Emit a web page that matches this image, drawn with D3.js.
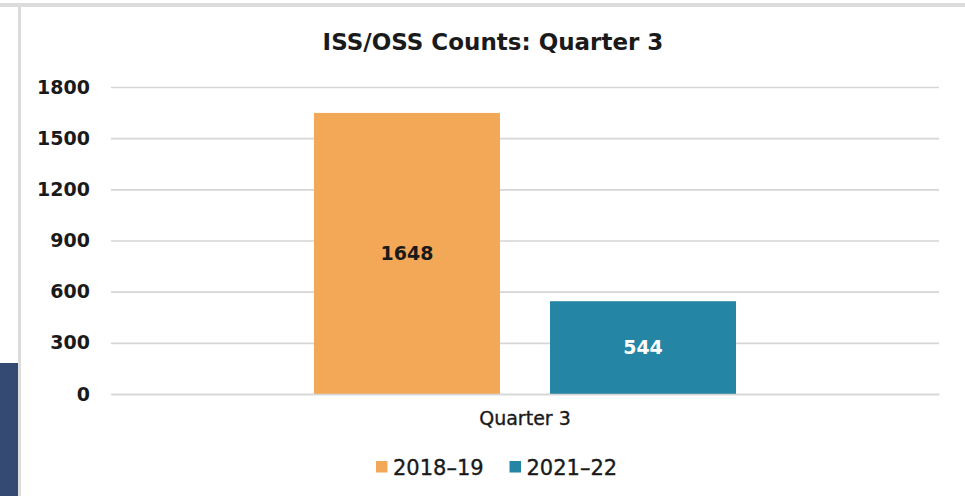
<!DOCTYPE html>
<html>
<head>
<meta charset="utf-8">
<script src="https://cdn.jsdelivr.net/npm/d3@7"></script>
<style>
  html, body { margin: 0; padding: 0; background: #fff; }
  svg { display: block; }
</style>
</head>
<body>
<svg id="chart" width="965" height="496"></svg>
<script>
// ---- data ----
const categories = ["Quarter 3"];
const seriesNames = ["2018\u201319", "2021\u201322"];
const values2018 = [1648];
const values2021 = [544];
const yTicks = [0, 300, 600, 900, 1200, 1500, 1800];
const title = "ISS/OSS Counts: Quarter 3";
const colors = ["#F3A857", "#2485A4"];

const seriesValues = [values2018, values2021];

const W = 965, H = 496;
const svg = d3.select("#chart");

// page frame decoration (slide background)
svg.append("rect").attr("x", 0).attr("y", 0).attr("width", W).attr("height", H).attr("fill", "#fff");
svg.append("rect").attr("x", 0).attr("y", 363).attr("width", 18).attr("height", H - 363).attr("fill", "#344A72");
svg.append("rect").attr("x", 0).attr("y", 3).attr("width", W).attr("height", 4).attr("fill", "#DCDCDC");
svg.append("rect").attr("x", 18).attr("y", 5).attr("width", 3).attr("height", H - 5).attr("fill", "#DCDCDC");

const plot = { left: 111, right: 939, top: 87, bottom: 394 };

const y = d3.scaleLinear().domain([0, 1800]).range([plot.bottom, plot.top]);
const x0 = d3.scaleBand().domain(categories).range([plot.left, plot.right])
  .paddingInner(0).paddingOuter(0.481);
const x1 = d3.scaleBand().domain(seriesNames).range([0, x0.bandwidth()])
  .paddingInner(0.212).paddingOuter(0);

// gridlines
const gridAxis = d3.axisLeft(y).tickValues(yTicks).tickSize(-(plot.right - plot.left)).tickFormat("");
const gg = svg.append("g").attr("transform", `translate(${plot.left},0)`).call(gridAxis);
gg.select(".domain").remove();
gg.selectAll(".tick line").attr("stroke", "#D6D6D6").attr("stroke-width", 1.6);

// y tick labels
const yAxis = d3.axisLeft(y).tickValues(yTicks).tickSize(0).tickPadding(21).tickFormat(d3.format("d"));
const ya = svg.append("g").attr("transform", `translate(${plot.left},0)`).call(yAxis);
ya.select(".domain").remove();
ya.selectAll("text")
  .attr("font-family", "DejaVu Sans, sans-serif")
  .attr("font-weight", "bold")
  .attr("font-size", "19px")
  .attr("fill", "#1a1a1a");

// bars
const groups = svg.append("g").selectAll("g").data(categories).join("g")
  .attr("transform", d => `translate(${x0(d)},0)`);

groups.each(function(cat, ci) {
  const g = d3.select(this);
  seriesNames.forEach((s, si) => {
    const v = seriesValues[si][ci];
    g.append("rect")
      .attr("x", x1(s))
      .attr("y", y(v))
      .attr("width", x1.bandwidth())
      .attr("height", y(0) - y(v))
      .attr("fill", colors[si]);
    g.append("text")
      .attr("x", x1(s) + x1.bandwidth() / 2)
      .attr("y", (y(v) + y(0)) / 2)
      .attr("dy", "0.36em")
      .attr("text-anchor", "middle")
      .attr("font-family", "DejaVu Sans, sans-serif")
      .attr("font-weight", "bold")
      .attr("font-size", "19px")
      .attr("fill", si === 0 ? "#1a1a1a" : "#ffffff")
      .text(v);
  });
});

// x axis
const xAxis = d3.axisBottom(x0).tickSize(0).tickPadding(18);
const xa = svg.append("g").attr("transform", `translate(0,${plot.bottom})`).call(xAxis);
xa.select(".domain").attr("stroke", "#D6D6D6").attr("stroke-width", 1.6);
xa.selectAll("text")
  .attr("font-family", "DejaVu Sans, sans-serif")
  .attr("font-size", "19px")
  .attr("fill", "#1a1a1a")
  .attr("stroke", "#1a1a1a")
  .attr("stroke-width", 0.35);

// title
svg.append("text")
  .attr("x", 493).attr("y", 49.5)
  .attr("text-anchor", "middle")
  .attr("font-family", "DejaVu Sans, sans-serif")
  .attr("font-weight", "bold")
  .attr("font-size", "23px")
  .attr("fill", "#1a1a1a")
  .text(title);

// legend
const legendX = [376, 509.5];
const lg = svg.append("g");
seriesNames.forEach((s, i) => {
  lg.append("rect").attr("x", legendX[i]).attr("y", 461).attr("width", 11.5).attr("height", 11.5).attr("fill", colors[i]);
  lg.append("text").attr("x", legendX[i] + 17).attr("y", 474.5)
    .attr("font-family", "DejaVu Sans, sans-serif")
    .attr("font-size", "21px")
    .attr("fill", "#1a1a1a")
    .attr("stroke", "#1a1a1a")
    .attr("stroke-width", 0.35)
    .text(s);
});
</script>
</body>
</html>
